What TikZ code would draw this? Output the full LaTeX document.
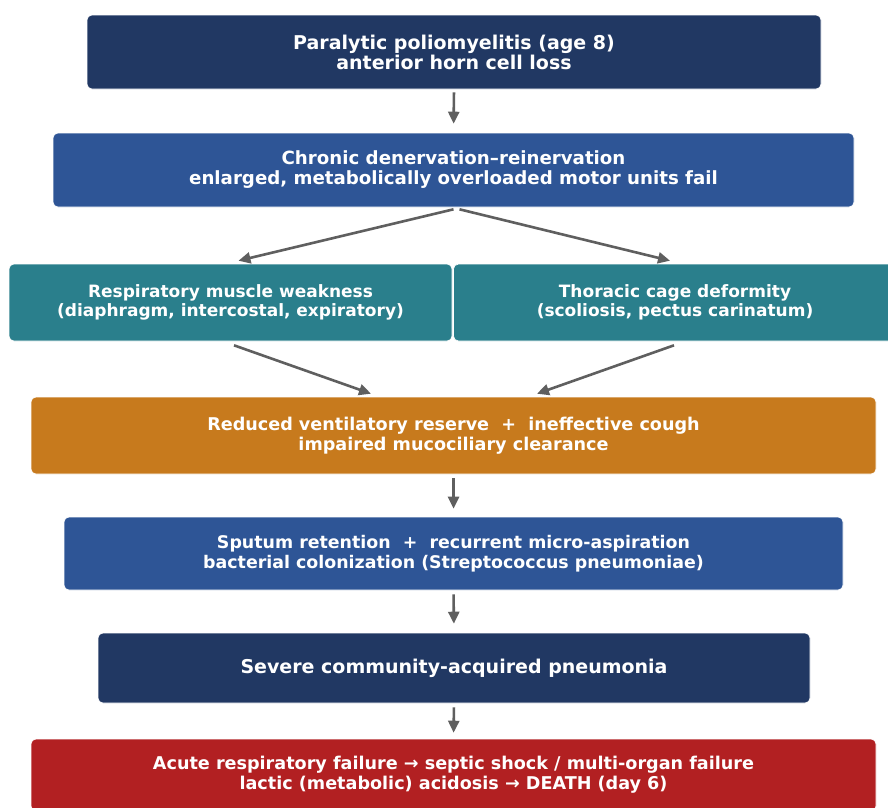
\documentclass[tikz,border=0pt]{standalone}
\usepackage{fontspec}
\setmainfont{DejaVu Sans}
\usetikzlibrary{arrows.meta,calc}
\definecolor{navy}{RGB}{33,56,99}
\definecolor{midblue}{RGB}{46,85,150}
\definecolor{teal2}{RGB}{42,127,140}
\definecolor{orange2}{RGB}{199,122,29}
\definecolor{red2}{RGB}{178,32,34}
\definecolor{arrgray}{RGB}{95,95,95}
\tikzset{
  box/.style={rounded corners=5pt, draw=white, line width=0.6pt, text=white, align=center, inner sep=0pt},
  fs/.style={font=\fontsize{#1}{20}\selectfont\bfseries},
  arr/.style={draw=arrgray, line width=2.6pt, -{Triangle[length=12pt,width=11pt]}}
}
\begin{document}
\begin{tikzpicture}[x=1pt,y=-1pt]
\clip (0,0) rectangle (888,807);
\fill[white] (0,0) rectangle (888,807);
\node[box, fs=19, fill=navy, minimum width=734pt, minimum height=74pt] (n1) at (454,52) {Paralytic poliomyelitis (age 8)\\anterior horn cell loss};
\node[box, fs=18.2, fill=midblue, minimum width=801pt, minimum height=74pt] (n2) at (453.5,170) {Chronic denervation--reinervation\\enlarged, metabolically overloaded motor units fail};
\node[box, font=\fontsize{17}{19}\selectfont\bfseries, fill=teal2, minimum width=443pt, minimum height=77pt] (n3l) at (230.5,302.5) {Respiratory muscle weakness\\(diaphragm, intercostal, expiratory)};
\node[box, font=\fontsize{17}{19}\selectfont\bfseries, fill=teal2, minimum width=443pt, minimum height=77pt] (n3r) at (675,302.5) {Thoracic cage deformity\\(scoliosis, pectus carinatum)};
\node[box, fs=17.6, fill=orange2, minimum width=845pt, minimum height=77pt] (n4) at (453.5,435.5) {Reduced ventilatory reserve~~+~~ineffective cough\\impaired mucociliary clearance};
\node[box, fs=17.4, fill=midblue, minimum width=779pt, minimum height=73pt] (n5) at (453.5,553.5) {Sputum retention~~+~~recurrent micro-aspiration\\bacterial colonization (Streptococcus pneumoniae)};
\node[box, fs=19, fill=navy, minimum width=712pt, minimum height=70pt] (n6) at (454,668) {Severe community-acquired pneumonia};
\node[box, fs=17.6, fill=red2, minimum width=845pt, minimum height=72pt] (n7) at (453.5,775) {Acute respiratory failure → septic shock / multi-organ failure\\lactic (metabolic) acidosis → DEATH (day 6)};
\draw[arr, shorten <=3pt, shorten >=9pt] (n1.south) -- (n2.north);
\draw[arr] ($(n2.south)+(0,2)$) -- ($(n3l.north)+(8,-3)$);
\draw[arr] ($(n2.south)+(6,2)$) -- ($(n3r.north)+(-5,-3)$);
\draw[arr] ($(n3l.south)+(3.5,4)$) -- ($(n4.north)+(-82.5,-3)$);
\draw[arr] ($(n3r.south)+(-1,4)$) -- ($(n4.north)+(83.5,-3)$);
\draw[arr, shorten <=4pt, shorten >=8pt] (n4.south) -- (n5.north);
\draw[arr, shorten <=4pt, shorten >=9pt] (n5.south) -- (n6.north);
\draw[arr, shorten <=4pt, shorten >=6pt] (n6.south) -- (n7.north);
\end{tikzpicture}
\end{document}
